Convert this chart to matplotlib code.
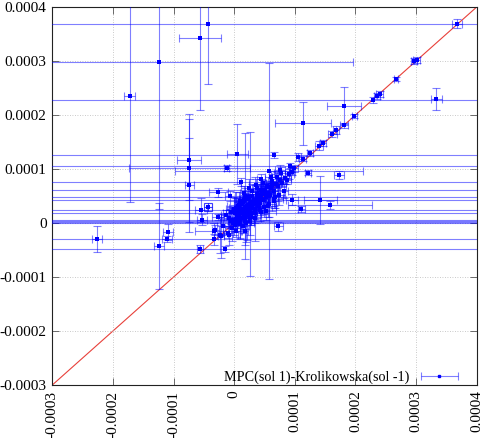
import matplotlib
matplotlib.use("Agg")
import matplotlib.pyplot as plt
from matplotlib.legend_handler import HandlerErrorbar
import numpy as np

plt.rcParams['font.family'] = ['Liberation Serif', 'DejaVu Serif']

U = 1e-5  # values below are in units of 1e-5

# isolated / outlying points: x, y, xerr, yerr
ox = [-17.2, -12.4, -5.6, -7.4, -7.4, -7.4, -12.4, -22.6, -10.9, -11.1, -5.6, -3.3, -2.3, -5.5, -5.3,
      0.5, -1.2, 1.8, 2.6, 5.8, 14.2, 15.8, 11.1, 9.5, 17.3, 12.2, 11.3, 18.1, 33.3, 7.3, 1.8,
      -2.6, -4.3, -3.1, -2.1, -2.6, -0.7, -4.3]
oy = [23.5, 29.8, 34.3, 11.7, 10.2, 7.0, -4.3, -3.0, -1.7, -3.0, -4.8, -1.5, -2.2, 2.4, 0.6,
      12.8, 10.2, 5.0, 3.5, 9.6, 4.3, 3.3, 2.6, 4.3, 8.9, 9.3, 18.5, 21.7, 23.0, -0.6, -1.5,
      5.7, 3.0, -1.3, -2.4, 1.1, 5.0, 3.0]
oxe = [0.9, 32.0, 3.5, 2.0, 10.0, 0.7, 0.9, 0.8, 0.8, 0.8, 0.5, 3.2, 0.6, 1.0, 0.8,
       1.7, 0.4, 0.5, 0.6, 15.5, 2.7, 6.9, 0.5, 1.0, 0.8, 0.5, 4.6, 2.8, 0.9, 0.7, 0.5,
       1.5, 0.6, 0.6, 0.5, 1.0, 0.8, 0.6]
oye = [19.6, 27.2, 13.4, 7.5, 10.0, 8.7, 8.0, 2.4, 1.5, 0.6, 0.8, 1.5, 3.3, 2.3, 1.0,
       5.5, 0.6, 11.7, 13.3, 20.0, 4.4, 0.7, 0.5, 1.0, 0.7, 0.5, 4.0, 3.4, 2.0, 0.8, 2.5,
       0.8, 0.7, 1.0, 4.0, 0.6, 1.0, 0.7]

# points lying on the diagonal at larger values
dx = [19.8, 18.1, 16.8, 16.2, 14.7, 14.0, 12.5, 11.3, 10.6, 9.9, 23.6, 24.0, 26.7, 30.1, 29.7, 36.8]
dy = [19.8, 18.1, 17.2, 16.5, 14.8, 14.3, 13.0, 11.9, 12.2, 10.1, 23.5, 23.9, 26.7, 30.2, 30.0, 36.9]
dxe = [0.4, 0.6, 0.5, 0.8, 0.5, 0.7, 0.5, 0.6, 0.4, 0.7, 0.5, 0.6, 0.4, 0.6, 0.5, 0.8]
dye = [0.4, 0.5, 0.7, 0.6, 0.5, 0.8, 0.6, 0.5, 0.7, 0.6, 0.5, 0.6, 0.4, 0.5, 0.6, 0.8]

# points whose x error spans the whole plot
wx = [-4.3, 22.9, 6.6, 9.2, 1.2, 4.5, 2.4, 3.4, 0.6, 1.0, -0.4, 0.2, -3.3, -1.5, 0.4, -0.2]
wy = [36.9, 22.8, 12.6, 10.6, 7.6, 6.1, 4.8, 4.3, 2.4, 1.85, 0.56, 0.19, -3.0, -4.8, 0.3, 0.0]
wxe = [100.0, 100.0, 100.0, 100.0, 100.0, 100.0, 100.0, 100.0,
       100.0, 100.0, 100.0, 100.0, 100.0, 100.0, 100.0, 100.0]
wye = [11.2, 0.5, 0.5, 0.5, 0.8, 0.7, 0.6, 0.6, 0.5, 0.5, 0.4, 0.4, 1.0, 0.6, 0.5, 0.4]

# dense cluster near the origin
cx = [-1.0, -0.6, -0.3, 0.0, 0.2, 0.4, 0.5, 0.7, 0.9, 1.0, 1.2, 1.3, 1.5, 1.6, 1.8, 1.9, 2.1, 2.2, 2.4, 2.5,
      2.7, 2.8, 3.0, 3.1, 3.3, 3.4, 3.6, 3.7, 3.9, 4.0, 4.2, 4.3, 4.5, 4.6, 4.8, 4.9, 5.1, 5.3, 5.5, 5.7,
      5.9, 6.1, 6.3, 6.6, 6.9, 7.2, 7.5, 7.9, 8.3, 8.7, 9.1, 9.6, 0.3, 1.1, 2.0, 2.9, 3.8, 4.7, 5.6, 6.5,
      1.4, 2.6, 3.5, 4.4, 0.8, 1.7]
cy = [-1.8, 0.4, -0.9, 0.6, -0.4, 1.1, 0.2, 1.7, 0.5, 2.2, 0.9, 1.8, 2.6, 1.2, 2.9, 1.9, 1.4, 3.4, 2.3, 3.0,
      1.8, 3.9, 2.7, 3.5, 4.3, 2.6, 3.9, 4.8, 3.2, 4.4, 5.2, 3.7, 4.9, 5.7, 4.2, 5.3, 6.1, 4.8, 5.6, 6.6,
      5.2, 6.4, 7.0, 6.0, 7.3, 6.8, 7.9, 7.4, 8.4, 8.0, 9.1, 9.5, 2.8, 3.6, 4.6, 5.9, 6.5, 7.4, 3.1, 4.1,
      -0.6, 0.3, 1.0, 2.0, 3.3, 4.2]
cxe = [0.8, 0.5, 1.2, 0.4, 0.9, 0.6, 1.5, 0.5, 0.7, 1.1, 0.4, 0.8, 1.3, 0.6, 0.9, 0.5, 1.6, 0.7, 0.4, 1.0,
       0.8, 0.6, 1.2, 0.5, 0.9, 1.4, 0.6, 0.8, 0.5, 1.1, 0.7, 1.3, 0.6, 0.9, 0.5, 1.0, 0.8, 0.6, 1.2, 0.7,
       0.5, 0.9, 1.1, 0.6, 0.8, 1.4, 0.5, 0.7, 1.0, 0.6, 0.8, 0.5, 1.2, 0.9, 0.6, 1.1, 0.7, 0.5, 1.3, 0.8,
       1.0, 0.6, 0.9, 0.7, 1.5, 0.8]
cye = [1.0, 0.6, 2.5, 0.5, 1.2, 0.8, 1.6, 0.6, 3.5, 0.9, 0.5, 1.1, 1.4, 0.7, 2.0, 0.6, 4.5, 0.8, 0.5, 1.3,
       0.9, 0.7, 1.5, 0.6, 1.0, 6.0, 0.7, 1.2, 0.6, 1.4, 0.8, 2.2, 0.7, 1.0, 0.6, 1.3, 0.9, 0.7, 1.8, 0.8,
       0.6, 1.1, 1.5, 0.7, 0.9, 2.8, 0.6, 0.8, 1.2, 0.7, 0.9, 0.6, 3.0, 1.0, 0.7, 1.4, 0.8, 0.6, 1.9, 0.9,
       1.2, 0.7, 1.0, 0.8, 2.4, 0.9]

# second, more scattered part of the cluster
sx = [-1.8, -1.4, -0.9, -0.5, -0.1, 0.3, 0.6, 1.0, 1.4, 1.8, 2.2, 2.6, 3.0, 3.4, 3.8, 4.2, 4.6, 5.0, 5.4, 5.8,
      6.2, 6.6, 7.0, 7.4, 7.8, 8.2, 0.1, 0.9, 1.9, 2.8, 3.6, 4.4, 5.3, 6.0, 6.8, 7.6, -0.8, 0.4, 1.6, 2.4]
sy = [-0.6, 1.5, -2.3, 2.0, 2.6, -1.4, 3.1, -0.2, 3.8, 0.4, 4.4, 1.0, 5.0, 1.8, 5.4, 2.4, 6.2, 3.0, 6.8, 3.6,
      7.8, 4.4, 8.6, 5.2, 9.2, 6.0, 1.8, 4.0, 0.0, 1.2, 7.0, 8.2, 2.2, 8.6, 4.8, 9.8, 1.0, 2.4, 5.6, 6.4]
sxe = [1.0, 0.7, 1.5, 0.6, 1.2, 0.8, 1.8, 0.6, 1.1, 0.9, 1.4, 0.7, 1.0, 1.6, 0.8, 1.2, 0.6, 1.3, 0.9, 1.1,
       0.7, 1.5, 0.8, 1.0, 1.2, 0.6, 2.0, 0.9, 1.3, 0.8, 1.1, 0.7, 1.6, 0.9, 1.2, 0.8, 1.4, 1.0, 0.7, 1.3]
sye = [1.4, 0.9, 1.8, 1.0, 2.2, 1.2, 0.8, 2.6, 1.1, 1.5, 0.9, 3.2, 1.3, 1.0, 1.7, 2.0, 1.1, 1.4, 0.9, 2.4,
       1.2, 1.6, 0.8, 1.9, 1.1, 1.3, 2.8, 1.0, 3.6, 1.5, 1.2, 0.9, 1.7, 1.1, 2.0, 1.0, 1.5, 2.2, 1.3, 1.8]

tick_vals = [-0.0003, -0.0002, -0.0001, 0, 0.0001, 0.0002, 0.0003, 0.0004]
tick_labels = ['-0.0003', '-0.0002', '-0.0001', '0', '0.0001', '0.0002', '0.0003', '0.0004']
legend_label = 'MPC(sol 1)-Krolikowska(sol -1)'

X = [v * U for v in ox + dx + wx + cx + sx]
Y = [v * U for v in oy + dy + wy + cy + sy]
XE = [v * U for v in oxe + dxe + wxe + cxe + sxe]
YE = [v * U for v in oye + dye + wye + cye + sye]

fig = plt.figure(figsize=(4.82, 4.38), dpi=100)
ax = fig.add_axes([0.1085, 0.121, 0.8805, 0.863])

lo, hi = tick_vals[0], tick_vals[-1]
ax.plot([lo, hi], [lo, hi], color='#e8403a', lw=0.8, zorder=1)

ecol = (0.0, 0.0, 1.0, 0.5)
bar_style = dict(ecolor=ecol, elinewidth=0.8, capsize=2.6, capthick=0.8)
mark_style = dict(marker='s', ms=2.8, mew=0.0, mfc='#0000ff', linestyle='none')

ax.errorbar(X, Y, xerr=XE, yerr=YE, fmt='none', zorder=3, **bar_style)
ax.plot(X, Y, zorder=4, **mark_style)

# legend sample: gnuplot draws a horizontal error bar with a point as key sample
eb_leg = ax.errorbar([np.nan], [np.nan], xerr=[1.0], fmt='s', ms=2.0, mfc='#0000ff',
                     mec='#0000ff', label=legend_label, **bar_style)

ax.set_xlim(lo, hi)
ax.set_ylim(lo, hi)
ax.set_xticks(tick_vals)
ax.set_xticklabels(tick_labels, rotation=90, fontsize=11)
ax.set_yticks(tick_vals)
ax.set_yticklabels(tick_labels, fontsize=11)
ax.tick_params(direction='in', length=5, width=0.6, color='#555555', top=True, right=True,
               pad=4)
ax.grid(True, color='#b8b8b8', linestyle=(0, (1, 2)), linewidth=0.6)
for s in ax.spines.values():
    s.set_linewidth(0.8)
    s.set_color('#222222')

leg = ax.legend(loc='lower right', bbox_to_anchor=(0.975, -0.012), frameon=False,
                markerfirst=False, fontsize=10.2, handlelength=3.0, borderaxespad=0,
                handletextpad=0.6,
                handler_map={type(eb_leg): HandlerErrorbar(xerr_size=1.3)})

fig.savefig('out.png', dpi=100)
